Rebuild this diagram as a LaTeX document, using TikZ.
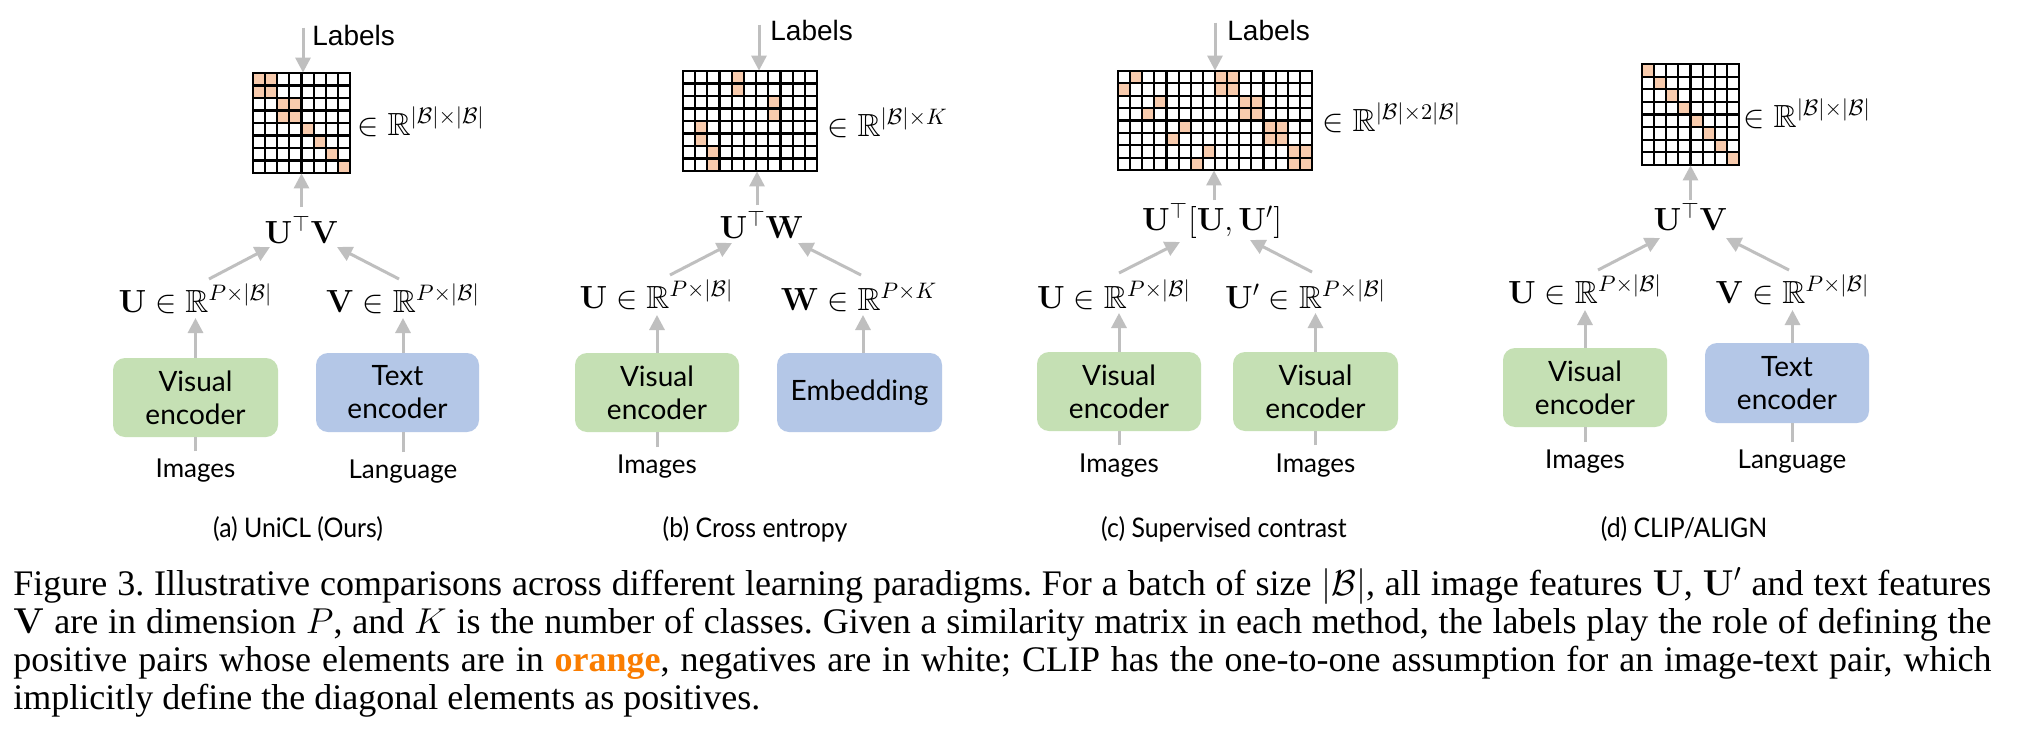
\RequirePackage{fix-cm}
\documentclass[tikz,border=0pt]{standalone}
\usepackage{amssymb}
\usepackage[no-math]{fontspec}
\setmainfont{Liberation Serif}
\newfontfamily\latofont{Lato}
\newfontfamily\latocond{Lato}[FakeStretch=0.92]
\newfontfamily\arialfont{Liberation Sans}
\usetikzlibrary{arrows.meta,calc,fit}
\definecolor{peach}{HTML}{F8CBAD}
\definecolor{encgreen}{HTML}{C5E0B4}
\definecolor{encblue}{HTML}{B4C7E7}
\definecolor{arrgray}{HTML}{BFBFBF}
\definecolor{orangetxt}{RGB}{250,125,0}
\frenchspacing
\tikzset{
  arr/.style={draw=arrgray, line width=1.5pt, -{Triangle[length=7.5pt,width=7.5pt]}},
  plainln/.style={draw=arrgray, line width=1.5pt},
  encg/.style={fill=encgreen, rounded corners=6pt, inner sep=0pt, minimum height=39.5pt, align=center, font=\latofont\fontsize{14}{16.5}\selectfont},
  encb/.style={encg, fill=encblue},
  mathlbl/.style={inner sep=0pt, font=\fontsize{16}{19}\selectfont},
  sanslbl/.style={inner sep=0pt, anchor=base, font=\latofont\fontsize{13}{16}\selectfont},
  labelsty/.style={inner sep=0pt, anchor=base west, font=\arialfont\fontsize{14}{16}\selectfont},
  subcap/.style={inner sep=0pt, anchor=base, font=\latocond\fontsize{13.5}{16}\selectfont},
  capline/.style={inner sep=0pt, anchor=base west, font=\fontsize{18}{19}\selectfont},
  gridline/.style={draw=black, line width=1.1pt, line cap=rect},
  gridbox/.style={inner sep=0pt, draw=none},
}
\newcommand{\drawmatrix}[7]{%
  \foreach \cc/\rr in {#7}{\fill[peach] ({#1+\cc*#5},{#2+\rr*#6}) rectangle ({#1+(\cc+1)*#5},{#2+(\rr+1)*#6});}
  \foreach \ii in {0,...,#3}{\draw[gridline] ({#1+\ii*#5},#2) -- ({#1+\ii*#5},{#2+#4*#6});}
  \foreach \jj in {0,...,#4}{\draw[gridline] (#1,{#2+\jj*#6}) -- ({#1+#3*#5},{#2+\jj*#6});}
}
\begin{document}
\begin{tikzpicture}[x=0.5pt,y=-0.5pt]
\fill[white] (0,0) rectangle (2018,755);
\useasboundingbox (0,0) rectangle (2018,755);

% ================= (a) UniCL =================
\drawmatrix{253}{73}{8}{8}{12.125}{12.5}{0/0,1/0,0/1,1/1,2/2,3/2,2/3,3/3,4/4,5/5,6/6,7/7}
\node[gridbox, fit={(253,73) (350,173)}] (gA) {};
\node[labelsty] (labA) at (312,45) {Labels};
\node[mathlbl, anchor=base west] (dimA) at (357,135) {$\in\mathbb{R}^{|\mathcal{B}|\times|\mathcal{B}|}$};
\node[mathlbl, anchor=base] (utvA) at (301.5,243) {$\mathbf{U}^{\top}\mathbf{V}$};
\node[mathlbl, anchor=base] (uA) at (195.5,312) {$\mathbf{U}\in\mathbb{R}^{P\times|\mathcal{B}|}$};
\node[mathlbl, anchor=base] (vA) at (403,312) {$\mathbf{V}\in\mathbb{R}^{P\times|\mathcal{B}|}$};
\node[encg, minimum width=82.5pt] (encA1) at (195.5,397.5) {Visual\\encoder};
\node[encb, minimum width=81.5pt] (encA2) at (397.5,392.5) {Text\\encoder};
\node[sanslbl] (imgA) at (195.5,477) {Images};
\node[sanslbl] (lanA) at (403,478) {Language};
\node[subcap] (capA) at (298,537) {(a) UniCL (Ours)};

\draw[arr] ($(gA.north)+(1.5,-45)$) -- ($(gA.north)+(1.5,0)$);
\draw[arr] ($(utvA.base)+(0,-36)$) -- (gA.south);
\draw[arr] ($(uA.base)+(13.5,-33)$) -- ($(utvA.base)+(-31.5,4)$);
\draw[arr] ($(vA.base)+(-4,-33)$) -- ($(utvA.base)+(35.5,4)$);
\draw[arr] (encA1.north) -- ($(encA1.north |- uA.base)+(0,6)$);
\draw[arr] (vA.base |- encA2.north) -- ($(vA.base)+(0,6)$);
\draw[plainln] ($(imgA.base)+(0,-26)$) -- (encA1.south);
\draw[plainln] ($(lanA.base)+(0,-26)$) -- (lanA.base |- encA2.south);

% ================= (b) Cross entropy =================
\drawmatrix{683}{71}{11}{8}{12.18}{12.5}{4/0,4/1,7/2,7/3,1/4,1/5,2/6,2/7}
\node[gridbox, fit={(683,71) (817,171)}] (gB) {};
\node[labelsty] (labB) at (770,40) {Labels};
\node[mathlbl, anchor=base west] (dimB) at (827,136) {$\in\mathbb{R}^{|\mathcal{B}|\times K}$};
\node[mathlbl, anchor=base] (utwB) at (761.5,238) {$\mathbf{U}^{\top}\mathbf{W}$};
\node[mathlbl, anchor=base] (uB) at (656.5,308) {$\mathbf{U}\in\mathbb{R}^{P\times|\mathcal{B}|}$};
\node[mathlbl, anchor=base] (wB) at (859,310) {$\mathbf{W}\in\mathbb{R}^{P\times K}$};
\node[encg, minimum width=82pt] (encB1) at (657,392.5) {Visual\\encoder};
\node[encb, minimum width=82.5pt] (encB2) at (859.5,392.5) {Embedding};
\node[sanslbl] (imgB) at (657,473) {Images};
\node[subcap] (capB) at (755,537) {(b) Cross entropy};

\draw[arr] ($(gB.north)+(9,-46)$) -- ($(gB.north)+(9,0)$);
\draw[arr] ($(utwB.base)+(-4.5,-33)$) coordinate (tB) -- (tB |- gB.south);
\draw[arr] ($(uB.base)+(13.5,-33)$) -- ($(utwB.base)+(-29.5,5)$);
\draw[arr] ($(wB.base)+(2,-35)$) -- ($(utwB.base)+(36.5,5)$);
\draw[arr] (encB1.north) -- ($(encB1.north |- uB.base)+(0,7)$);
\draw[arr] ($(wB.base |- encB2.north)+(4,0)$) -- ($(wB.base)+(4,5)$);
\draw[plainln] ($(imgB.base)+(0,-26)$) -- (encB1.south);

% ================= (c) Supervised contrast =================
\drawmatrix{1118}{71}{16}{8}{12.125}{12.375}{1/0,8/0,9/0,0/1,8/1,9/1,3/2,10/2,11/2,2/3,10/3,11/3,5/4,12/4,13/4,4/5,12/5,13/5,7/6,14/6,15/6,6/7,14/7,15/7}
\node[gridbox, fit={(1118,71) (1312,170)}] (gC) {};
\node[labelsty] (labC) at (1227,40) {Labels};
\node[mathlbl, anchor=base west] (dimC) at (1322,131) {$\in\mathbb{R}^{|\mathcal{B}|\times 2|\mathcal{B}|}$};
\node[mathlbl, anchor=base] (utuC) at (1212,230) {$\mathbf{U}^{\top}[\mathbf{U},\mathbf{U}']$};
\node[mathlbl, anchor=base] (uC) at (1114,308) {$\mathbf{U}\in\mathbb{R}^{P\times|\mathcal{B}|}$};
\node[mathlbl, anchor=base] (upC) at (1305.5,308) {$\mathbf{U}'\in\mathbb{R}^{P\times|\mathcal{B}|}$};
\node[encg, minimum width=82pt] (encC1) at (1119,391.5) {Visual\\encoder};
\node[encg, minimum width=82.5pt] (encC2) at (1315.5,391.5) {Visual\\encoder};
\node[sanslbl] (imgC1) at (1119,472) {Images};
\node[sanslbl] (imgC2) at (1315.5,472) {Images};
\node[subcap] (capC) at (1224,537) {(c) Supervised contrast};

\draw[arr] ($(gC.north)+(0,-48)$) -- (gC.north);
\draw[arr] ($(utuC.base)+(2,-30)$) coordinate (tC) -- (tC |- gC.south);
\draw[arr] ($(uC.base)+(5,-35)$) -- ($(utuC.base)+(-32,12)$);
\draw[arr] ($(upC.base)+(6.5,-36)$) -- ($(utuC.base)+(38,10)$);
\draw[arr] (encC1.north) -- ($(encC1.north |- uC.base)+(0,5)$);
\draw[arr] (encC2.north) -- ($(encC2.north |- upC.base)+(0,5)$);
\draw[plainln] ($(imgC1.base)+(0,-27)$) -- (encC1.south);
\draw[plainln] ($(imgC2.base)+(0,-27)$) -- (encC2.south);

% ================= (d) CLIP/ALIGN =================
\drawmatrix{1642}{64}{8}{8}{12.125}{12.625}{0/0,1/1,2/2,3/3,4/4,5/5,6/6,7/7}
\node[gridbox, fit={(1642,64) (1739,165)}] (gD) {};
\node[mathlbl, anchor=base west] (dimD) at (1743,127) {$\in\mathbb{R}^{|\mathcal{B}|\times|\mathcal{B}|}$};
\node[mathlbl, anchor=base] (utvD) at (1690.5,230) {$\mathbf{U}^{\top}\mathbf{V}$};
\node[mathlbl, anchor=base] (uD) at (1585,303) {$\mathbf{U}\in\mathbb{R}^{P\times|\mathcal{B}|}$};
\node[mathlbl, anchor=base] (vD) at (1792.5,303) {$\mathbf{V}\in\mathbb{R}^{P\times|\mathcal{B}|}$};
\node[encg, minimum width=82pt] (encD1) at (1585,387.5) {Visual\\encoder};
\node[encb, minimum width=82pt, minimum height=40pt] (encD2) at (1787,383) {Text\\encoder};
\node[sanslbl] (imgD) at (1585,468) {Images};
\node[sanslbl] (lanD) at (1792,468) {Language};
\node[subcap] (capD) at (1684,537) {(d) CLIP/ALIGN};

\draw[arr] ($(utvD.base)+(0,-30)$) -- (gD.south);
\draw[arr] ($(uD.base)+(13,-33)$) -- ($(utvD.base)+(-30.5,8)$);
\draw[arr] ($(vD.base)+(-3.5,-33)$) -- ($(utvD.base)+(35.5,8)$);
\draw[arr] (encD1.north) -- ($(encD1.north |- uD.base)+(0,7)$);
\draw[arr] (vD.base |- encD2.north) -- ($(vD.base)+(0,7)$);
\draw[plainln] ($(imgD.base)+(0,-26)$) -- (encD1.south);
\draw[plainln] ($(lanD.base)+(0,-26)$) -- (lanD.base |- encD2.south);

% ================= caption =================
\node[capline] (cap1) at (13,595) {\makebox[989pt][s]{Figure 3. Illustrative comparisons across different learning paradigms. For a batch of size $|\mathcal{B}|$, all image features $\mathbf{U}$, $\mathbf{U}'$ and text features}};
\node[capline] (cap2) at (13,633) {\makebox[989pt][s]{$\mathbf{V}$ are in dimension $P$, and $K$ is the number of classes. Given a similarity matrix in each method, the labels play the role of defining the}};
\node[capline] (cap3) at (13,671) {\makebox[989pt][s]{positive pairs whose elements are in \textcolor{orangetxt}{\textbf{orange}}, negatives are in white; CLIP has the one-to-one assumption for an image-text pair, which}};
\node[capline] (cap4) at (13,709) {implicitly define the diagonal elements as positives.};
\end{tikzpicture}
\end{document}
